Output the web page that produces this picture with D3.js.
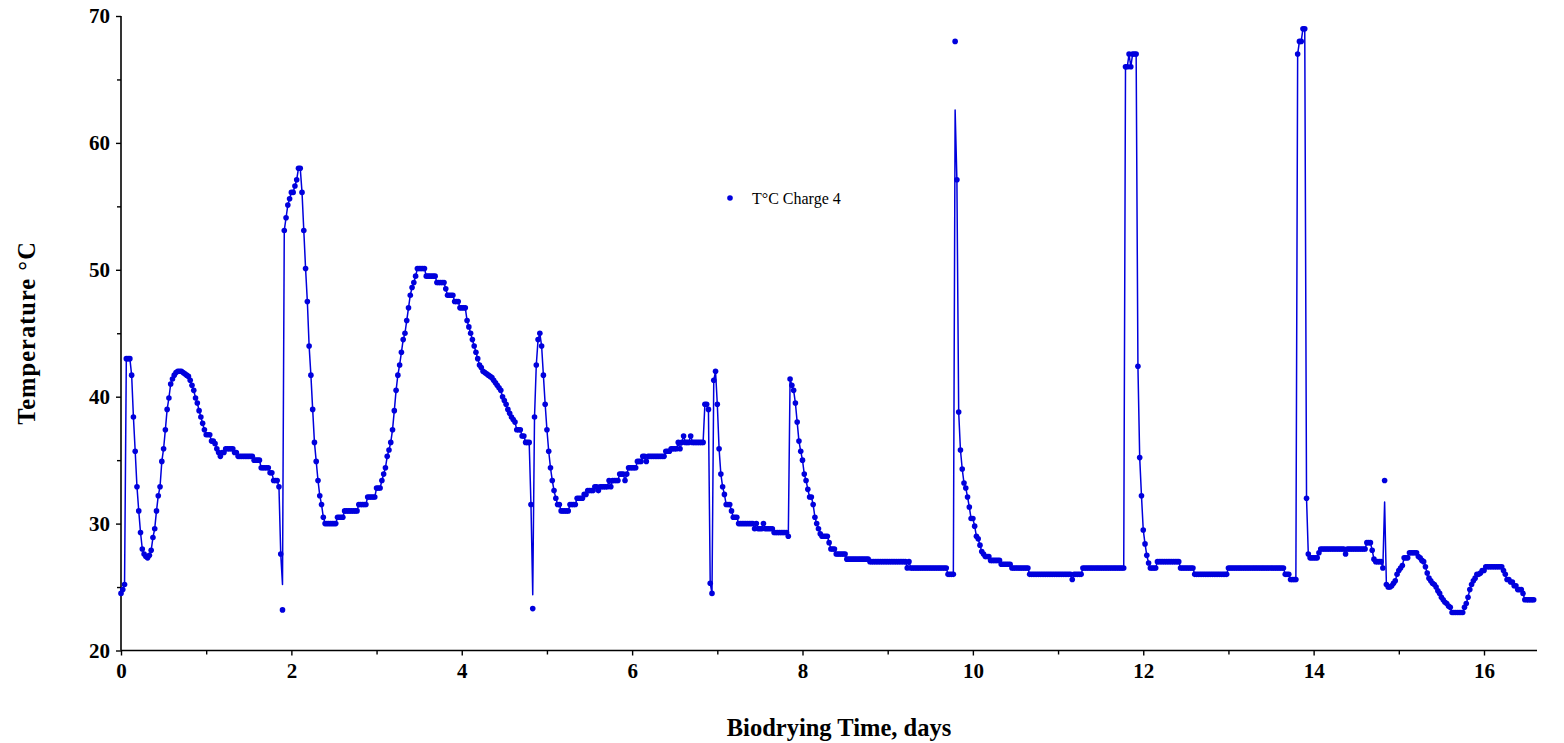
<!DOCTYPE html>
<html>
<head>
<meta charset="utf-8">
<script src="https://cdn.jsdelivr.net/npm/d3@7"></script>
<style>
  body { margin: 0; background: #fff; }
  svg text { font-family: "Liberation Serif", "Times New Roman", serif; }
</style>
</head>
<body>
<div id="graph"></div>
<script>
// logger reads every 30 minutes
const sampleStep = 1 / 48;

// temperature readings, degC (one per sample)
const tempC = [
  24.5, 24.8, 25.2, 43.0, 43.0, 43.0, 41.7, 38.4, 35.7, 32.9, 31.0, 29.3,
  28.0, 27.6, 27.4, 27.3, 27.5, 27.9, 28.9, 29.6, 31.0, 32.2, 32.9, 34.9,
  35.9, 37.4, 39.0, 39.9, 41.0, 41.4, 41.7, 41.9, 42.0, 42.0, 42.0, 41.9,
  41.8, 41.7, 41.6, 41.3, 40.9, 40.5, 39.9, 39.5, 38.9, 38.4, 37.9, 37.4,
  // day 1
  37.0, 37.0, 37.0, 36.5, 36.5, 36.3, 35.9, 35.6, 35.3, 35.6, 35.6, 35.9,
  35.9, 35.9, 35.9, 35.9, 35.6, 35.6, 35.3, 35.3, 35.3, 35.3, 35.3, 35.3,
  35.3, 35.3, 35.3, 35.0, 35.0, 35.0, 35.0, 34.4, 34.4, 34.4, 34.4, 34.4,
  34.0, 34.0, 33.4, 33.4, 33.4, 32.9, 27.6, 23.2, 53.1, 54.1, 55.1, 55.6,
  // day 2
  56.1, 56.1, 56.6, 57.1, 58.0, 58.0, 56.1, 53.1, 50.1, 47.5, 44.0, 41.7,
  39.0, 36.4, 34.9, 33.4, 32.2, 31.5, 30.5, 30.0, 30.0, 30.0, 30.0, 30.0,
  30.0, 30.0, 30.5, 30.5, 30.5, 30.5, 31.0, 31.0, 31.0, 31.0, 31.0, 31.0,
  31.0, 31.0, 31.5, 31.5, 31.5, 31.5, 31.5, 32.1, 32.1, 32.1, 32.1, 32.1,
  // day 3
  32.8, 32.8, 32.8, 33.4, 33.9, 34.4, 35.3, 35.8, 36.4, 37.4, 38.9, 40.5,
  41.7, 42.5, 43.5, 44.5, 45.0, 46.0, 47.0, 48.0, 48.6, 49.0, 49.5, 50.1,
  50.1, 50.1, 50.1, 50.1, 49.5, 49.5, 49.5, 49.5, 49.5, 49.5, 49.0, 49.0,
  49.0, 49.0, 49.0, 48.5, 48.0, 48.0, 48.0, 48.0, 47.5, 47.5, 47.5, 47.0,
  // day 4
  47.0, 47.0, 47.0, 46.0, 45.5, 45.0, 44.5, 44.0, 43.5, 43.0, 42.5, 42.3,
  42.0, 41.9, 41.8, 41.7, 41.6, 41.5, 41.3, 41.1, 40.9, 40.7, 40.5, 40.0,
  39.7, 39.4, 39.0, 38.7, 38.4, 38.2, 38.0, 37.4, 37.4, 37.4, 36.9, 36.9,
  36.4, 36.4, 36.4, 31.5, 23.3, 38.4, 42.5, 44.5, 45.0, 44.0, 41.7, 39.4,
  // day 5
  37.4, 35.7, 34.4, 33.4, 32.6, 32.0, 31.5, 31.5, 31.0, 31.0, 31.0, 31.0,
  31.0, 31.5, 31.5, 31.5, 31.5, 32.0, 32.0, 32.0, 32.0, 32.3, 32.3, 32.6,
  32.6, 32.6, 32.6, 32.9, 32.9, 32.6, 32.9, 32.9, 32.9, 32.9, 32.9, 33.4,
  32.9, 33.4, 33.4, 33.4, 33.4, 33.9, 33.9, 33.9, 33.4, 33.9, 34.4, 34.4,
  // day 6
  34.4, 34.4, 34.4, 34.9, 34.9, 34.9, 35.3, 35.3, 34.9, 35.3, 35.3, 35.3,
  35.3, 35.3, 35.3, 35.3, 35.3, 35.3, 35.3, 35.7, 35.7, 35.7, 35.9, 35.9,
  35.9, 35.9, 36.4, 35.9, 36.4, 36.9, 36.4, 36.4, 36.4, 36.9, 36.4, 36.4,
  36.4, 36.4, 36.4, 36.4, 36.4, 39.4, 39.4, 39.0, 25.3, 24.5, 41.3, 42.0,
  // day 7
  39.4, 35.9, 33.9, 32.9, 32.3, 31.5, 31.5, 31.5, 31.0, 30.5, 30.5, 30.5,
  30.0, 30.0, 30.0, 30.0, 30.0, 30.0, 30.0, 30.0, 30.0, 29.6, 30.0, 29.6,
  29.6, 29.6, 30.0, 29.6, 29.6, 29.6, 29.6, 29.6, 29.3, 29.3, 29.3, 29.3,
  29.3, 29.3, 29.3, 29.3, 29.0, 41.4, 40.9, 40.5, 39.5, 38.0, 36.5, 35.7,
  // day 8
  35.0, 33.9, 33.4, 32.7, 32.1, 32.1, 31.5, 30.5, 30.0, 29.6, 29.2, 29.0,
  29.0, 29.0, 29.0, 28.5, 28.0, 28.0, 28.0, 27.6, 27.6, 27.6, 27.6, 27.6,
  27.6, 27.2, 27.2, 27.2, 27.2, 27.2, 27.2, 27.2, 27.2, 27.2, 27.2, 27.2,
  27.2, 27.2, 27.0, 27.0, 27.0, 27.0, 27.0, 27.0, 27.0, 27.0, 27.0, 27.0,
  // day 9
  27.0, 27.0, 27.0, 27.0, 27.0, 27.0, 27.0, 27.0, 27.0, 27.0, 27.0, 26.5,
  27.0, 26.5, 26.5, 26.5, 26.5, 26.5, 26.5, 26.5, 26.5, 26.5, 26.5, 26.5,
  26.5, 26.5, 26.5, 26.5, 26.5, 26.5, 26.5, 26.5, 26.5, 26.5, 26.0, 26.0,
  26.0, 26.0, 68.0, 57.1, 38.8, 35.8, 34.3, 33.2, 32.8, 32.1, 31.3, 30.4,
  // day 10
  30.4, 29.8, 29.0, 28.8, 28.3, 27.8, 27.6, 27.4, 27.4, 27.4, 27.1, 27.1,
  27.1, 27.1, 27.1, 27.1, 26.8, 26.8, 26.8, 26.8, 26.8, 26.8, 26.5, 26.5,
  26.5, 26.5, 26.5, 26.5, 26.5, 26.5, 26.5, 26.5, 26.0, 26.0, 26.0, 26.0,
  26.0, 26.0, 26.0, 26.0, 26.0, 26.0, 26.0, 26.0, 26.0, 26.0, 26.0, 26.0,
  // day 11
  26.0, 26.0, 26.0, 26.0, 26.0, 26.0, 26.0, 26.0, 25.6, 26.0, 26.0, 26.0,
  26.0, 26.0, 26.5, 26.5, 26.5, 26.5, 26.5, 26.5, 26.5, 26.5, 26.5, 26.5,
  26.5, 26.5, 26.5, 26.5, 26.5, 26.5, 26.5, 26.5, 26.5, 26.5, 26.5, 26.5,
  26.5, 26.5, 66.0, 66.0, 67.0, 66.0, 67.0, 67.0, 67.0, 42.4, 35.2, 32.2,
  // day 12
  29.5, 28.4, 27.5, 26.9, 26.5, 26.5, 26.5, 26.5, 27.0, 27.0, 27.0, 27.0,
  27.0, 27.0, 27.0, 27.0, 27.0, 27.0, 27.0, 27.0, 27.0, 26.5, 26.5, 26.5,
  26.5, 26.5, 26.5, 26.5, 26.5, 26.0, 26.0, 26.0, 26.0, 26.0, 26.0, 26.0,
  26.0, 26.0, 26.0, 26.0, 26.0, 26.0, 26.0, 26.0, 26.0, 26.0, 26.0, 26.0,
  // day 13
  26.5, 26.5, 26.5, 26.5, 26.5, 26.5, 26.5, 26.5, 26.5, 26.5, 26.5, 26.5,
  26.5, 26.5, 26.5, 26.5, 26.5, 26.5, 26.5, 26.5, 26.5, 26.5, 26.5, 26.5,
  26.5, 26.5, 26.5, 26.5, 26.5, 26.5, 26.5, 26.5, 26.0, 26.0, 26.0, 25.6,
  25.6, 25.6, 25.6, 67.0, 68.0, 68.0, 69.0, 69.0, 32.0, 27.6, 27.3, 27.3,
  // day 14
  27.3, 27.3, 27.3, 27.7, 28.0, 28.0, 28.0, 28.0, 28.0, 28.0, 28.0, 28.0,
  28.0, 28.0, 28.0, 28.0, 28.0, 28.0, 27.6, 28.0, 28.0, 28.0, 28.0, 28.0,
  28.0, 28.0, 28.0, 28.0, 28.0, 28.0, 28.5, 28.5, 28.5, 27.9, 27.2, 27.0,
  27.0, 27.0, 27.0, 26.5, 33.4, 25.2, 25.0, 25.0, 25.1, 25.3, 25.5, 26.0,
  // day 15
  26.3, 26.5, 26.7, 27.3, 27.3, 27.3, 27.7, 27.7, 27.7, 27.7, 27.7, 27.4,
  27.3, 27.1, 27.0, 26.6, 26.1, 25.7, 25.5, 25.3, 25.2, 25.0, 24.7, 24.5,
  24.2, 24.0, 23.8, 23.7, 23.5, 23.4, 23.0, 23.0, 23.0, 23.0, 23.0, 23.0,
  23.0, 23.4, 23.7, 24.2, 24.8, 25.2, 25.5, 25.7, 26.0, 26.0, 26.1, 26.3,
  // day 16
  26.3, 26.6, 26.6, 26.6, 26.6, 26.6, 26.6, 26.6, 26.6, 26.6, 26.6, 26.3,
  26.0, 25.6, 25.6, 25.4, 25.4, 25.1, 25.1, 24.8, 24.8, 24.8, 24.5, 24.0,
  24.0, 24.0, 24.0, 24.0, 24.0
];

// single spikes where the plotted line stops short of the marker: [sample index, line value]
const lineOverrides = [[91, 25.2], [232, 24.4], [470, 62.6], [712, 31.7]];

const xMajorTicks = [0, 2, 4, 6, 8, 10, 12, 14, 16];
const xMinorTicks = [1, 3, 5, 7, 9, 11, 13, 15];
const yMajorTicks = [20, 30, 40, 50, 60, 70];
const yMinorTicks = [25, 35, 45, 55, 65];

const seriesName = "T°C Charge 4";
const xTitle = "Biodrying Time, days";
const yTitle = "Temperature °C";

const width = 1564, height = 743;
const blue = "#0000dd";

const svg = d3.select("#graph").append("svg")
  .attr("width", width).attr("height", height);

const x = d3.scaleLinear().domain([0, 16]).range([121, 1484]);
const y = d3.scaleLinear().domain([20, 70]).range([650.5, 16]);

const points = tempC.map((v, i) => ({ t: i * sampleStep, v: v }));
const linePts = points.map((d) => ({ t: d.t, v: d.v }));
lineOverrides.forEach(([i, v]) => { linePts[i].v = v; });

// axes
const xAxisEnd = 1537;
svg.append("line")
  .attr("x1", x(0)).attr("x2", xAxisEnd)
  .attr("y1", y(20)).attr("y2", y(20))
  .attr("stroke", "#000").attr("stroke-width", 1.6);
svg.append("line")
  .attr("x1", x(0)).attr("x2", x(0))
  .attr("y1", y(20)).attr("y2", y(70))
  .attr("stroke", "#000").attr("stroke-width", 1.6);

svg.append("g").attr("transform", `translate(0,${y(20)})`)
  .call(d3.axisBottom(x).tickValues(xMajorTicks).tickSize(5).tickPadding(8).tickFormat(d3.format("d")));
svg.append("g").attr("transform", `translate(0,${y(20)})`)
  .call(d3.axisBottom(x).tickValues(xMinorTicks).tickSize(4).tickFormat(""));
svg.append("g").attr("transform", `translate(${x(0)},0)`)
  .call(d3.axisLeft(y).tickValues(yMajorTicks).tickSize(5).tickPadding(6).tickFormat(d3.format("d")));
svg.append("g").attr("transform", `translate(${x(0)},0)`)
  .call(d3.axisLeft(y).tickValues(yMinorTicks).tickSize(4).tickFormat(""));

svg.selectAll(".domain").remove();
svg.selectAll(".tick line").attr("stroke", "#000").attr("stroke-width", 1.4);
svg.selectAll(".tick text")
  .attr("fill", "#000")
  .style("font-family", '"Liberation Serif", "Times New Roman", serif')
  .style("font-weight", "bold")
  .style("font-size", "21px");

// titles
svg.append("text")
  .attr("x", 839).attr("y", 736)
  .attr("text-anchor", "middle")
  .style("font-weight", "bold").style("font-size", "24.5px")
  .text(xTitle);
svg.append("text")
  .attr("transform", "translate(35,333) rotate(-90)")
  .attr("text-anchor", "middle")
  .style("font-weight", "bold").style("font-size", "24.5px")
  .style("letter-spacing", "1px")
  .text(yTitle);

// series line
svg.append("path")
  .datum(linePts)
  .attr("fill", "none")
  .attr("stroke", blue)
  .attr("stroke-width", 1.5)
  .attr("stroke-linejoin", "round")
  .attr("d", d3.line().x((d) => x(d.t)).y((d) => y(d.v)));

// markers
svg.append("g")
  .selectAll("circle")
  .data(points)
  .enter()
  .append("circle")
  .attr("cx", (d) => x(d.t))
  .attr("cy", (d) => y(d.v))
  .attr("r", 2.8)
  .attr("fill", blue);

// legend
svg.append("circle").attr("cx", 730).attr("cy", 198).attr("r", 2.8).attr("fill", blue);
svg.append("text")
  .attr("x", 752).attr("y", 204)
  .style("font-size", "16px")
  .attr("fill", "#000")
  .text(seriesName);
</script>
</body>
</html>
